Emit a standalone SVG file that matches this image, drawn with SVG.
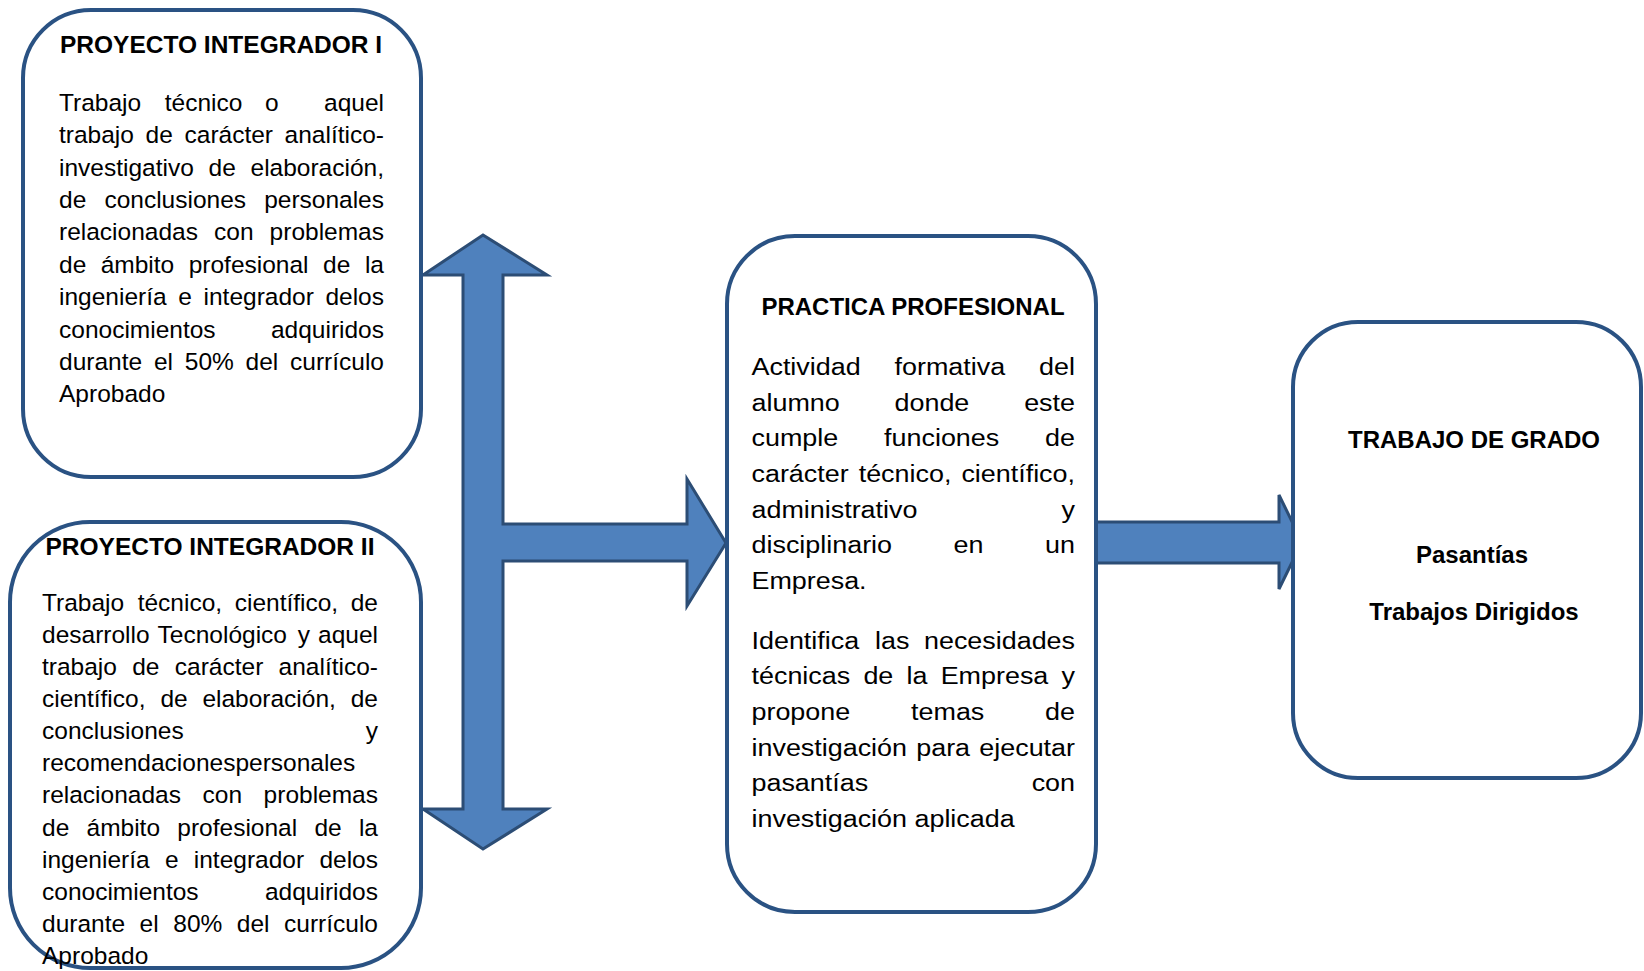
<svg xmlns="http://www.w3.org/2000/svg" width="1644" height="971" viewBox="0 0 1644 971">
<style>
.box{fill:#ffffff;stroke:#2a5283;stroke-width:4}
.arr{fill:#4f81bd;stroke:#2c4d75;stroke-width:3;stroke-linejoin:miter}
.b{font-family:"Liberation Sans",Arial,sans-serif;font-size:24.5px;fill:#000}
.m{font-family:"Liberation Sans",Arial,sans-serif;font-size:23.3px;fill:#000}
.t{font-family:"Liberation Sans",Arial,sans-serif;font-size:24.5px;font-weight:bold;fill:#000}
.e{text-anchor:end}
</style>
<rect width="1644" height="971" fill="#ffffff"/>
<g id="connectors">
<path class="arr" d="M483,235 L547,275 L503,275 L503,524 L687,524 L687,479 L726,543 L687,606 L687,561 L503,561 L503,809 L547,809 L483,849 L423,809 L463,809 L463,275 L423,275 Z"/>
<path class="arr" d="M1090,522 L1279,522 L1279,495 L1302,542 L1279,589 L1279,563 L1090,563 Z"/>
</g>
<g id="proyecto-integrador-1">
<rect class="box" x="23" y="10" width="398" height="467" rx="68" ry="68"/>
<text class="t" x="60" y="53">PROYECTO INTEGRADOR I</text>
<text class="b" y="110.7"><tspan x="59">Trabajo</tspan><tspan x="164.8">técnico</tspan><tspan x="265.1">o</tspan><tspan x="384" class="e">aquel</tspan></text>
<text class="b" y="143.1"><tspan x="59">trabajo</tspan><tspan x="145.6">de</tspan><tspan x="184.5">carácter</tspan><tspan x="384" class="e">analítico-</tspan></text>
<text class="b" y="175.5"><tspan x="59">investigativo</tspan><tspan x="208.6">de</tspan><tspan x="384" class="e">elaboración,</tspan></text>
<text class="b" y="207.9"><tspan x="59">de</tspan><tspan x="104.4">conclusiones</tspan><tspan x="384" class="e">personales</tspan></text>
<text class="b" y="240.3"><tspan x="59">relacionadas</tspan><tspan x="214">con</tspan><tspan x="384" class="e">problemas</tspan></text>
<text class="b" y="272.7"><tspan x="59">de</tspan><tspan x="100.7">ámbito</tspan><tspan x="188.7">profesional</tspan><tspan x="323">de</tspan><tspan x="384" class="e">la</tspan></text>
<text class="b" y="305.1"><tspan x="59">ingeniería</tspan><tspan x="178.2">e</tspan><tspan x="203.5">integrador</tspan><tspan x="384" class="e">delos</tspan></text>
<text class="b" y="337.5"><tspan x="59">conocimientos</tspan><tspan x="384" class="e">adquiridos</tspan></text>
<text class="b" y="369.9"><tspan x="59">durante</tspan><tspan x="153.9">el</tspan><tspan x="184.8">50%</tspan><tspan x="245.6">del</tspan><tspan x="384" class="e">currículo</tspan></text>
<text class="b" x="59" y="402.3">Aprobado</text>
</g>
<g id="proyecto-integrador-2">
<rect class="box" x="10" y="522" width="411" height="446" rx="80" ry="80"/>
<text class="t" x="210" y="555" text-anchor="middle">PROYECTO INTEGRADOR II</text>
<text class="b" y="610.7"><tspan x="42">Trabajo</tspan><tspan x="137.7">técnico,</tspan><tspan x="234.7">científico,</tspan><tspan x="378" class="e">de</tspan></text>
<text class="b" y="642.8"><tspan x="42">desarrollo</tspan><tspan x="157.6">Tecnológico</tspan><tspan x="297.8">y</tspan><tspan x="378" class="e">aquel</tspan></text>
<text class="b" y="674.9"><tspan x="42">trabajo</tspan><tspan x="132.2">de</tspan><tspan x="174.8">carácter</tspan><tspan x="378" class="e">analítico-</tspan></text>
<text class="b" y="707.1"><tspan x="42">científico,</tspan><tspan x="160.4">de</tspan><tspan x="202.4">elaboración,</tspan><tspan x="378" class="e">de</tspan></text>
<text class="b" y="739.2"><tspan x="42">conclusiones</tspan><tspan x="378" class="e">y</tspan></text>
<text class="b" x="42" y="771.3">recomendacionespersonales</text>
<text class="b" y="803.4"><tspan x="42">relacionadas</tspan><tspan x="202.5">con</tspan><tspan x="378" class="e">problemas</tspan></text>
<text class="b" y="835.5"><tspan x="42">de</tspan><tspan x="86.5">ámbito</tspan><tspan x="177.3">profesional</tspan><tspan x="314.4">de</tspan><tspan x="378" class="e">la</tspan></text>
<text class="b" y="867.7"><tspan x="42">ingeniería</tspan><tspan x="164.9">e</tspan><tspan x="193.8">integrador</tspan><tspan x="378" class="e">delos</tspan></text>
<text class="b" y="899.8"><tspan x="42">conocimientos</tspan><tspan x="378" class="e">adquiridos</tspan></text>
<text class="b" y="931.9"><tspan x="42">durante</tspan><tspan x="139.6">el</tspan><tspan x="173.3">80%</tspan><tspan x="236.8">del</tspan><tspan x="378" class="e">currículo</tspan></text>
<text class="b" x="42" y="964">Aprobado</text>
</g>
<g id="practica-profesional">
<rect class="box" x="727" y="236" width="369" height="676" rx="68" ry="68"/>
<text class="t" x="913" y="315" text-anchor="middle" style="font-size:24px">PRACTICA PROFESIONAL</text>
<g transform="translate(751.5 0) scale(1.155 1)">
<text class="m" y="375"><tspan x="0">Actividad</tspan><tspan x="123.85">formativa</tspan><tspan x="280.1" class="e">del</tspan></text>
<text class="m" y="410.6"><tspan x="0">alumno</tspan><tspan x="123.85">donde</tspan><tspan x="280.1" class="e">este</tspan></text>
<text class="m" y="446.3"><tspan x="0">cumple</tspan><tspan x="114.8">funciones</tspan><tspan x="280.1" class="e">de</tspan></text>
<text class="m" y="482"><tspan x="0">carácter</tspan><tspan x="92.8">técnico,</tspan><tspan x="280.1" class="e">científico,</tspan></text>
<text class="m" y="517.6"><tspan x="0">administrativo</tspan><tspan x="280.1" class="e">y</tspan></text>
<text class="m" y="553.3"><tspan x="0">disciplinario</tspan><tspan x="175">en</tspan><tspan x="280.1" class="e">un</tspan></text>
<text class="m" x="0" y="589">Empresa.</text>
<text class="m" y="648.8"><tspan x="0">Identifica</tspan><tspan x="107">las</tspan><tspan x="280.1" class="e">necesidades</tspan></text>
<text class="m" y="684.4"><tspan x="0">técnicas</tspan><tspan x="96.9">de</tspan><tspan x="134.3">la</tspan><tspan x="163.8">Empresa</tspan><tspan x="280.1" class="e">y</tspan></text>
<text class="m" y="720.1"><tspan x="0">propone</tspan><tspan x="138.15">temas</tspan><tspan x="280.1" class="e">de</tspan></text>
<text class="m" y="755.7"><tspan x="0">investigación</tspan><tspan x="142.65">para</tspan><tspan x="280.1" class="e">ejecutar</tspan></text>
<text class="m" y="791.4"><tspan x="0">pasantías</tspan><tspan x="280.1" class="e">con</tspan></text>
<text class="m" x="0" y="827">investigación aplicada</text>
</g>
</g>
<g id="trabajo-de-grado">
<rect class="box" x="1293" y="322" width="348" height="456" rx="65" ry="65"/>
<text class="t" x="1474" y="448" text-anchor="middle" style="font-size:24px">TRABAJO DE GRADO</text>
<text class="t" x="1472" y="563" text-anchor="middle" style="font-size:24px">Pasantías</text>
<text class="t" x="1474" y="620" text-anchor="middle" style="font-size:24px">Trabajos Dirigidos</text>
</g>
</svg>
